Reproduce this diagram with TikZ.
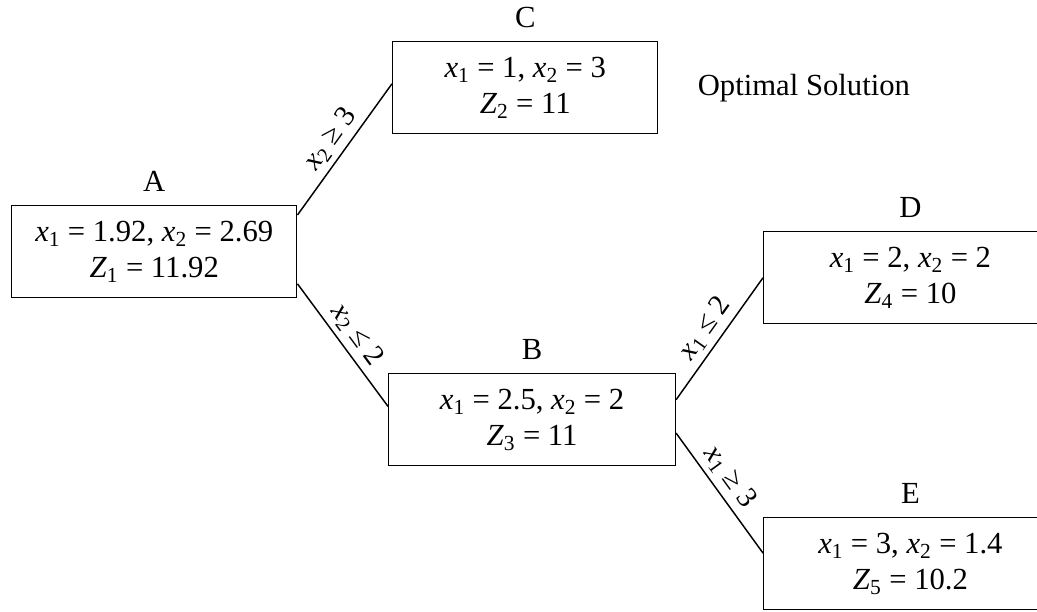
\documentclass[tikz,border=0pt]{standalone}
\usepackage{fontspec}
\setmainfont{Liberation Serif}
\usetikzlibrary{positioning}

\newcommand{\xv}[1]{\textit{x}\textsubscript{#1}}
\newcommand{\zv}[1]{\textit{Z}\textsubscript{#1}}

\begin{document}
\begin{tikzpicture}[
    x=0.75pt, y=-0.75pt,
    node distance=6.5pt,
    every node/.style={font=\fontsize{23}{27}\selectfont},
    box/.style={draw, line width=1.1pt, rectangle, minimum height=69pt, align=center, anchor=north west},
    branch/.style={line width=1.1pt},
    cond/.style={sloped, above, inner sep=4pt, font=\fontsize{22}{26}\selectfont}
]

\useasboundingbox (0,0) rectangle (1037,611);
\clip (0,0) rectangle (1037,611);

% Nodes
\node (a) [box, minimum width=213.75pt] at (11,205) {\xv{1} = 1.92, \xv{2} = 2.69\\\zv{1} = 11.92};
\node (c) [box, minimum width=198.75pt] at (392,41) {\xv{1} = 1, \xv{2} = 3\\\zv{2} = 11};
\node (b) [box, minimum width=215pt] at (388,373) {\xv{1} = 2.5, \xv{2} = 2\\\zv{3} = 11};
\node (d) [box, minimum width=220pt] at (763,231) {\xv{1} = 2, \xv{2} = 2\\\zv{4} = 10};
\node (e) [box, minimum width=220pt] at (763,517) {\xv{1} = 3, \xv{2} = 1.4\\\zv{5} = 10.2};

\node (a_tag) [above=of a] {A};
\node (c_tag) [above=of c] {C};
\node (b_tag) [above=of b] {B};
\node (d_tag) [above=of d] {D};
\node (e_tag) [above=of e] {E};

\node (optimal) [right=26pt of c] {Optimal Solution};

% Edges
\draw[branch] ([yshift=-7.5pt]a.north east) -- ([yshift=3pt]c.west) node[cond, midway] {\xv{2} ≥ 3};
\draw[branch] ([yshift=11pt]a.south east) -- ([yshift=10pt]b.west) node[cond, midway] {\xv{2} ≤ 2};
\draw[branch] ([yshift=-20pt]b.north east) -- (d.west) node[cond, midway] {\xv{1} ≤ 2};
\draw[branch] ([yshift=25pt]b.south east) -- ([yshift=8pt]e.west) node[cond, pos=0.45] {\xv{1} ≥ 3};

\end{tikzpicture}
\end{document}
